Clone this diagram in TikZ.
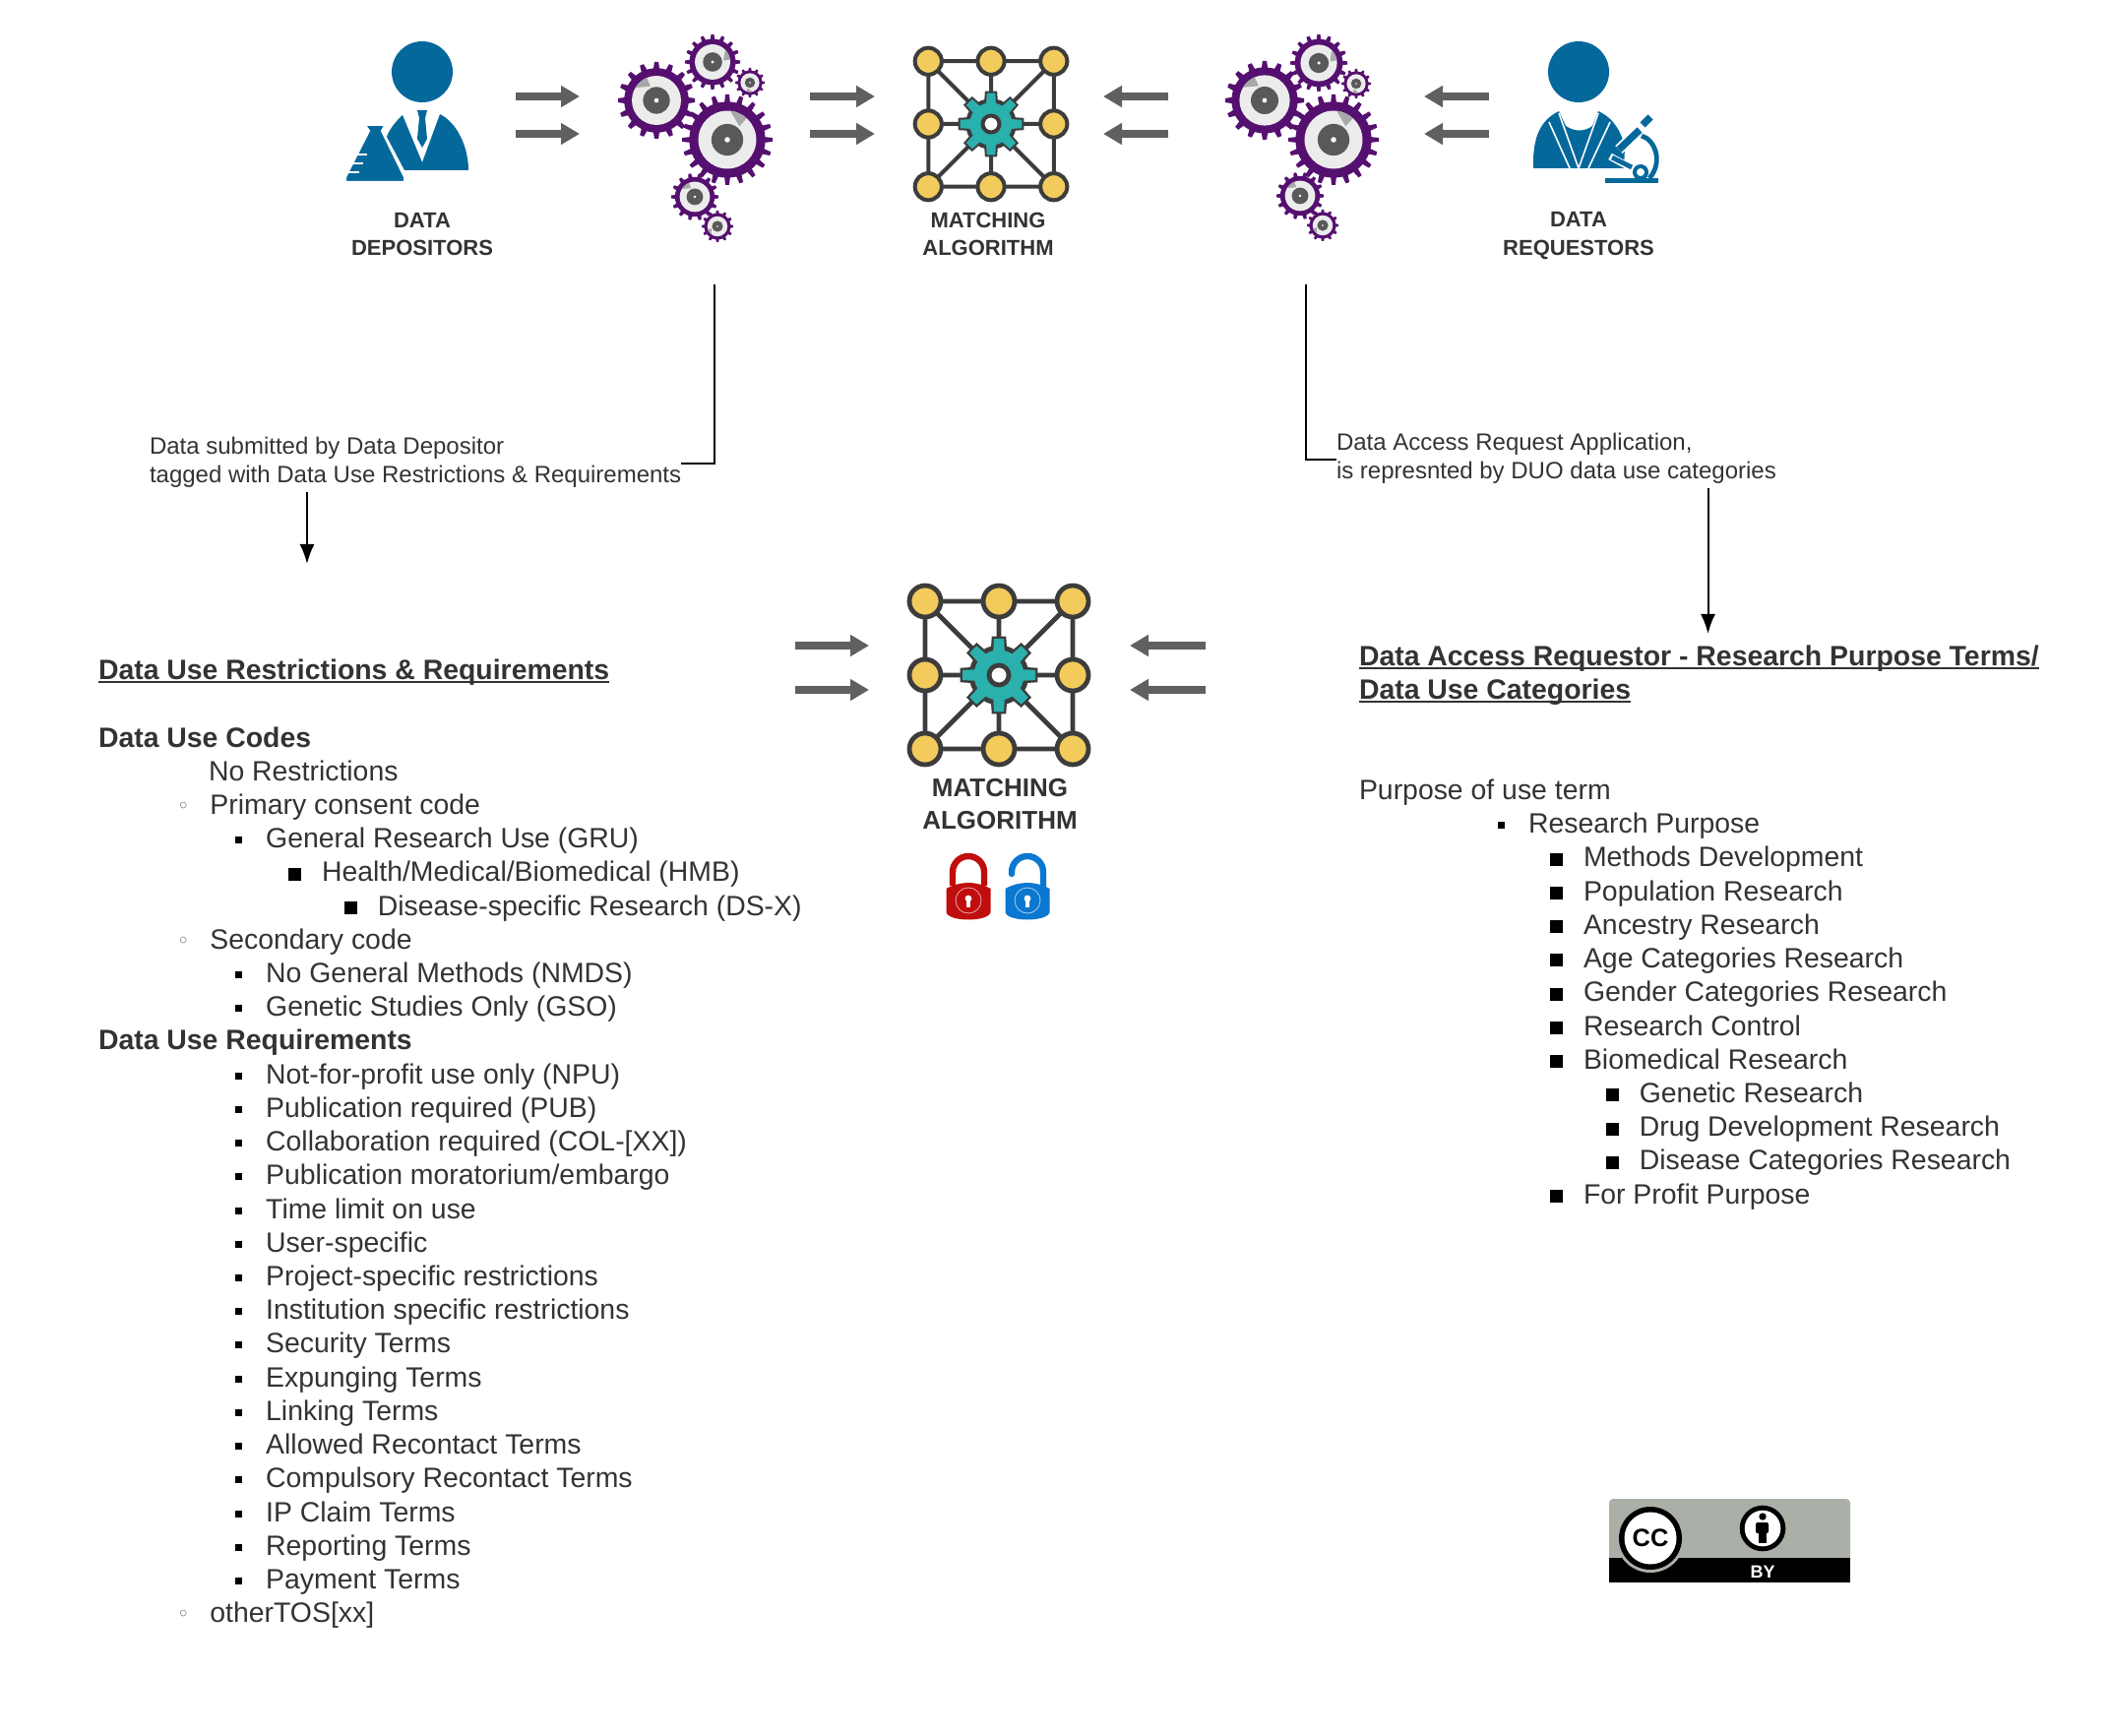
\documentclass[tikz,border=0pt]{standalone}
\usepackage{fontspec}
\setmainfont{Liberation Sans}
\usepackage{xcolor}
\usetikzlibrary{positioning,arrows.meta}
\definecolor{ink}{HTML}{333333}
\definecolor{flowgray}{HTML}{606060}
\definecolor{cogpurple}{HTML}{55106F}
\definecolor{coglight}{HTML}{ECECEC}
\definecolor{cogdark}{HTML}{595959}
\definecolor{cogwedge}{HTML}{A8A8A8}
\definecolor{personblue}{HTML}{05689B}
\definecolor{netyellow}{HTML}{F2CB5C}
\definecolor{netdark}{HTML}{3C3C3C}
\definecolor{netteal}{HTML}{2AB0AD}
\definecolor{lockred}{HTML}{C00D0D}
\definecolor{lockblue}{HTML}{0A78D0}
\definecolor{ccgray}{HTML}{AAB0A8}
\newcommand\ulhead[1]{\sbox0{#1}\rlap{\rule[-2pt]{\wd0}{1pt}}\box0}

\begin{document}
\begin{tikzpicture}[x=0.5pt, y=-0.5pt, node distance={17.11pt},
    main/.style = {inner sep=0pt, outer sep=0pt, anchor=base west, text=ink, font=\fontsize{14.2}{17}\selectfont},
    head/.style = {main, font=\fontsize{14.2}{17}\selectfont\bfseries},
    ringitem/.style = {main, execute at begin node={\llap{\raisebox{2.5pt}{\color{gray}\fontsize{8}{8}\selectfont$\circ$}\hspace{11.4pt}}}},
    dotitem/.style = {main, execute at begin node={\llap{\color{black}\rule[2.25pt]{3.5pt}{3.5pt}\hspace{12pt}}}},
    boxitem/.style = {main, execute at begin node={\llap{\color{black}\rule[0.6pt]{6.5pt}{6.5pt}\hspace{10.5pt}}}},
    note/.style = {inner sep=0pt, outer sep=0pt, anchor=west, align=left, text=ink, font=\fontsize{12}{14.5}\selectfont},
    icontext/.style = {inner sep=0pt, outer sep=0pt, align=center, text=ink, font=\fontsize{11}{14.4}\selectfont\bfseries},
    flow/.style = {-{Triangle[length=9.5pt,width=10.5pt]}, line width=4pt, flowgray},
    link/.style = {line width=1pt, black},
    person/.style = {fill=personblue},
    pics/cog/.style n args = {3}{code = {
        \fill[cogpurple] (0,0) circle ({.84*#1});
        \foreach \t in {1,...,#3}
            \fill[cogpurple, rotate=\t*360/#3] ({.8*#1},{-1.3*#1/#3}) -- (#1,{-.85*#1/#3}) -- (#1,{.85*#1/#3}) -- ({.8*#1},{1.3*#1/#3}) -- cycle;
        \fill[coglight] (0,0) circle ({.64*#1});
        \fill[cogwedge] ({#2+12}:{.4*#1}) -- ({#2-24}:{.64*#1}) arc[start angle=#2-24, end angle=#2+12, radius=.64*#1] -- cycle;
        \fill[cogdark] (0,0) circle ({.35*#1});
        \fill[white] (0,0) circle ({.06*#1});
    }},
    pics/matcher/.style = {code = {
        \draw[netdark, line width=#1] (-75,-75) rectangle (75,75) (-75,-75) -- (75,75) (-75,75) -- (75,-75) (0,-75) -- (0,75) (-75,0) -- (75,0);
        \foreach \t in {1,...,8}
            \draw[netdark, fill=netteal, line width=#1, rotate=\t*45] (22,-6) -- (37,-5) -- (37,5) -- (22,6) -- cycle;
        \draw[netdark, fill=netteal, line width=#1] (0,0) circle (28);
        \foreach \t in {1,...,8}
            \fill[netteal, rotate=\t*45] (20,-6) -- (37,-5) -- (37,5) -- (20,6) -- cycle;
        \draw[netdark, fill=white, line width=#1] (0,0) circle (10);
        \foreach \p in {(-75,-75),(0,-75),(75,-75),(-75,0),(75,0),(-75,75),(0,75),(75,75)}
            \draw[netdark, fill=netyellow, line width=#1] \p circle (16);
    }},
    pics/padlock/.style = {code = {
        \fill[#1] (-22.5,-12) .. controls (-8,-20) and (8,-20) .. (22.5,-12) -- (22.5,12) .. controls (20,22) and (-20,22) .. (-22.5,12) -- cycle;
        \draw[white!65!#1, line width=.4pt] (0,0) circle (13);
        \fill[white] (0,-2) circle (3.4);
        \fill[white] (-1.6,-2) rectangle (1.6,7);
    }}]
    \useasboundingbox (0,0) rectangle (2145,1764);

    \fill[person] (429,73) circle (31);
    \fill[person] (409,117) .. controls (400,125) and (394,135) .. (393,139) -- (411,173) -- (476,173) .. controls (476,150) and (465,125) .. (447,116) -- (429,165) -- cycle;
    \fill[person] (424,112) -- (434,112) -- (432,120) -- (434,141) -- (429,150) -- (424,141) -- (426,120) -- cycle;
    \fill[person, draw=white, line width=1pt] (371,127) -- (391,127) -- (388,133) -- (411,180) -- (411,185) -- (351,185) -- (351,180) -- (375,133) -- cycle;
    \draw[white, line width=.9pt] (360,157) -- (373,157) (356,166) -- (369,166) (352,175) -- (365,175);

    \fill[person] (1604,73) circle (31);
    \fill[person] (1558,171) .. controls (1557,140) and (1565,122) .. (1584,113) -- (1591,128) .. controls (1600,134) and (1610,134) .. (1618,128) -- (1624,113) .. controls (1640,120) and (1648,135) .. (1651,150) -- (1650,171) -- cycle;
    \draw[white, line width=.8pt] (1584,115) -- (1604,171) -- (1624,115) (1574,124) -- (1595,171) (1636,124) -- (1614,171);
    \draw[white, line width=3.6pt] (1636,159) -- (1660,172);
    \draw[personblue, line width=2.4pt] (1638,160) -- (1658,170);
    \draw[white, line width=5.4pt] (1645,152) -- (1668,130);
    \draw[personblue, line width=3.6pt] (1645,152) -- (1666,132);
    \draw[personblue, line width=3.6pt] (1669,127) -- (1677,119);
    \draw[personblue, line width=2.4pt] (1668,138) .. controls (1682,142) and (1690,165) .. (1676,181);
    \draw[personblue, line width=2pt, fill=white] (1667,175) circle (6);
    \draw[personblue, line width=2.5pt] (1631,184) -- (1685,184);

    \pic at (667,102) {cog={39}{235}{16}};
    \pic at (724,63) {cog={28}{-20}{16}};
    \pic at (762,84) {cog={15}{100}{12}};
    \pic at (739,142) {cog={46}{-60}{20}};
    \pic at (706,200) {cog={24}{235}{14}};
    \pic at (729,230) {cog={16}{150}{12}};
    \pic at (1285,102) {cog={40}{235}{16}};
    \pic at (1340,64) {cog={29}{-20}{16}};
    \pic at (1378,85) {cog={15}{100}{12}};
    \pic at (1355,142) {cog={46}{-60}{20}};
    \pic at (1321,199) {cog={24}{235}{14}};
    \pic at (1344,229) {cog={16}{150}{12}};

    \pic[scale=.85] at (1007,126) {matcher={2pt}};
    \pic at (1015,686) {matcher={2.4pt}};

    \draw[lockred, line width=3.2pt] (968,900) -- (968,886) arc[start angle=180, end angle=360, radius=16] -- (1000,900);
    \pic at (984,915) {padlock=lockred};
    \draw[lockblue, line width=3.2pt, line cap=round] (1028,888) -- (1028,886) arc[start angle=180, end angle=360, radius=16] -- (1060,900);
    \pic at (1044,915) {padlock=lockblue};

    \node[icontext] (depositors) at (429,238) {DATA\\DEPOSITORS};
    \node[icontext] (algorithm) at (1004,238) {MATCHING\\ALGORITHM};
    \node[icontext] (requestors) at (1604,240) {DATA\\REQUESTORS};
    \node[icontext, font=\fontsize{13}{16.4}\selectfont\bfseries] (algorithm2) at (1016,817) {MATCHING\\ALGORITHM};

    \coordinate (a1) at (524,98);   \coordinate (b1) at (589,98);
    \coordinate (a2) at (524,136);  \coordinate (b2) at (589,136);
    \coordinate (a3) at (823,98);   \coordinate (b3) at (889,98);
    \coordinate (a4) at (823,136);  \coordinate (b4) at (889,136);
    \coordinate (a5) at (1187,98);  \coordinate (b5) at (1121,98);
    \coordinate (a6) at (1187,136); \coordinate (b6) at (1121,136);
    \coordinate (a7) at (1513,98);  \coordinate (b7) at (1447,98);
    \coordinate (a8) at (1513,136); \coordinate (b8) at (1447,136);
    \coordinate (a9) at (808,656);   \coordinate (b9) at (883,656);
    \coordinate (a10) at (808,701);  \coordinate (b10) at (883,701);
    \coordinate (a11) at (1225,656); \coordinate (b11) at (1148,656);
    \coordinate (a12) at (1225,701); \coordinate (b12) at (1148,701);
    \draw[flow] (a1) -- (b1);
    \draw[flow] (a2) -- (b2);
    \draw[flow] (a3) -- (b3);
    \draw[flow] (a4) -- (b4);
    \draw[flow] (a5) -- (b5);
    \draw[flow] (a6) -- (b6);
    \draw[flow] (a7) -- (b7);
    \draw[flow] (a8) -- (b8);
    \draw[flow] (a9) -- (b9);
    \draw[flow] (a10) -- (b10);
    \draw[flow] (a11) -- (b11);
    \draw[flow] (a12) -- (b12);

    \node[note] (submitted) at (152,469.5) {Data submitted by Data Depositor\\tagged with Data Use Restrictions \& Requirements};
    \node[note] (request) at (1358,465.5) {Data Access Request Application,\\is represnted by DUO data use categories};
    \coordinate (gearsl) at (726,289);
    \coordinate (gearsr) at (1326.5,289);
    \coordinate (down1) at (312,500.5);
    \coordinate (down1end) at (312,573);
    \coordinate (down2) at (1735.5,496.5);
    \coordinate (down2end) at (1735.5,644);
    \draw[link] (gearsl) |- ([yshift=-1pt]submitted.east);
    \draw[link] (gearsr) |- ([yshift=-1pt]request.west);
    \draw[link, -{Latex[length=10pt,width=7.5pt]}] (down1) -- (down1end);
    \draw[link, -{Latex[length=10pt,width=7.5pt]}] (down2) -- (down2end);

    \node[head] (restrict) at (100,690) {\ulhead{Data Use Restrictions \& Requirements}};
    \node[head] (codes) at (100,759) {Data Use Codes};
    \node (none) [below=of codes.base west, main, xshift=56pt] {No Restrictions};
    \node (primary) [below=of none.base west, ringitem, xshift=.7pt] {Primary consent code};
    \node (gru) [below=of primary.base west, dotitem, xshift=28.4pt] {General Research Use (GRU)};
    \node (hmb) [below=of gru.base west, boxitem, xshift=28.4pt] {Health/Medical/Biomedical (HMB)};
    \node (dsx) [below=of hmb.base west, boxitem, xshift=28.4pt] {Disease-specific Research (DS-X)};
    \node (secondary) [below=of dsx.base west, ringitem, xshift=-85.2pt] {Secondary code};
    \node (nmds) [below=of secondary.base west, dotitem, xshift=28.4pt] {No General Methods (NMDS)};
    \node (gso) [below=of nmds.base west, dotitem] {Genetic Studies Only (GSO)};
    \node (reqs) [below=of gso.base west, head, xshift=-85.1pt] {Data Use Requirements};
    \node (npu) [below=of reqs.base west, dotitem, xshift=85.1pt] {Not-for-profit use only (NPU)};
    \node (pub) [below=of npu.base west, dotitem] {Publication required (PUB)};
    \node (col) [below=of pub.base west, dotitem] {Collaboration required (COL-[XX])};
    \node (moratorium) [below=of col.base west, dotitem] {Publication moratorium/embargo};
    \node (timelimit) [below=of moratorium.base west, dotitem] {Time limit on use};
    \node (user) [below=of timelimit.base west, dotitem] {User-specific};
    \node (project) [below=of user.base west, dotitem] {Project-specific restrictions};
    \node (institution) [below=of project.base west, dotitem] {Institution specific restrictions};
    \node (security) [below=of institution.base west, dotitem] {Security Terms};
    \node (expunging) [below=of security.base west, dotitem] {Expunging Terms};
    \node (linking) [below=of expunging.base west, dotitem] {Linking Terms};
    \node (allowed) [below=of linking.base west, dotitem] {Allowed Recontact Terms};
    \node (compulsory) [below=of allowed.base west, dotitem] {Compulsory Recontact Terms};
    \node (ipclaim) [below=of compulsory.base west, dotitem] {IP Claim Terms};
    \node (reporting) [below=of ipclaim.base west, dotitem] {Reporting Terms};
    \node (payment) [below=of reporting.base west, dotitem] {Payment Terms};
    \node (othertos) [below=of payment.base west, ringitem, xshift=-28.4pt] {otherTOS[xx]};

    \node[head] (accessa) at (1381,676) {\ulhead{Data Access Requestor - Research Purpose Terms/}};
    \node (accessb) [below=of accessa.base west, head] {\ulhead{Data Use Categories}};
    \node[main] (purpose) at (1381,812.5) {Purpose of use term};
    \node (research) [below=of purpose.base west, dotitem, xshift=86pt] {Research Purpose};
    \node (methods) [below=of research.base west, boxitem, xshift=28pt] {Methods Development};
    \node (population) [below=of methods.base west, boxitem] {Population Research};
    \node (ancestry) [below=of population.base west, boxitem] {Ancestry Research};
    \node (age) [below=of ancestry.base west, boxitem] {Age Categories Research};
    \node (gender) [below=of age.base west, boxitem] {Gender Categories Research};
    \node (control) [below=of gender.base west, boxitem] {Research Control};
    \node (biomedical) [below=of control.base west, boxitem] {Biomedical Research};
    \node (genetic) [below=of biomedical.base west, boxitem, xshift=28.4pt] {Genetic Research};
    \node (drug) [below=of genetic.base west, boxitem] {Drug Development Research};
    \node (disease) [below=of drug.base west, boxitem] {Disease Categories Research};
    \node (profit) [below=of disease.base west, boxitem, xshift=-28.4pt] {For Profit Purpose};

    \fill[ccgray, rounded corners=2pt] (1635,1532) |- (1880,1523) -- (1880,1590) -- (1635,1590) -- cycle;
    \fill[black] (1635,1583) rectangle (1880,1608);
    \fill[ccgray] (1677,1563) circle (35);
    \fill[black] (1677,1563) circle (32);
    \fill[white] (1677,1563) circle (26.5);
    \node[inner sep=0pt, font=\fontsize{12.7}{14}\selectfont\bfseries] (cctext) at (1677,1563) {CC};
    \node[inner sep=0pt, text=white, font=\fontsize{9}{10}\selectfont\bfseries] (bytext) at (1791,1597) {BY};
    \fill[black] (1791,1553) circle (23.3);
    \fill[white] (1791,1553) circle (18.3);
    \fill[black] (1791,1541) circle (3.7);
    \fill[black, rounded corners=1pt] (1784,1547) rectangle (1797,1558);
    \fill[black] (1787,1555) rectangle (1795,1568);
\end{tikzpicture}
\end{document}
